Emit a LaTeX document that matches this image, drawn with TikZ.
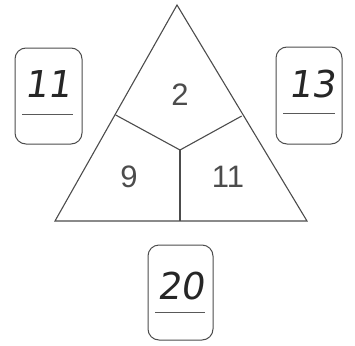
\documentclass[tikz,border=0pt]{standalone}
\usepackage{fontspec}
\setmainfont{Liberation Sans}
\newfontfamily\handfont{DejaVu Sans}[FakeSlant=0.15]
\begin{document}
\begin{tikzpicture}[x=1pt,y=-1pt,
  line/.style={draw=black!70,line width=1.1pt},
  numtext/.style={font=\fontsize{31}{34}\selectfont,text=black!70,inner sep=0pt},
  handtext/.style={font=\handfont\fontsize{37}{40}\selectfont,text=black!85,inner sep=0pt},
  answerbox/.style={draw=black!70,line width=1pt,rounded corners=11pt},
  underl/.style={draw=black!65,line width=1pt}]
\useasboundingbox (0,0) rectangle (355,345);
% triangle corners
\coordinate (apex) at (177,5);
\coordinate (bl) at (55,221);
\coordinate (br) at (307,221);
\coordinate (lm) at (115.7,115);
\coordinate (rm) at (241.7,116);
\coordinate (c) at (180,150);
\coordinate (bm) at (180,221);
\draw[line] (apex) -- (bl) -- (br) -- cycle;
\draw[line] (lm) -- (c) -- (rm);
\draw[line] (c) -- (bm);
% numbers
\node[numtext] (n2) at (180,95) {2};
\node[numtext] (n9) at (129,177) {9};
\node[numtext] (n11) at (228,177) {11};
% boxes
\draw[answerbox] (15,48) rectangle (82,144);
\node[handtext] (h11) at (48,84) {11};
\coordinate (u1a) at (22,114);
\coordinate (u1b) at (73,114);
\draw[underl] (u1a) -- (u1b);
\draw[answerbox] (276,47) rectangle (342,144);
\node[handtext] (h13) at (312,84) {13};
\coordinate (u2a) at (283,113);
\coordinate (u2b) at (335,113);
\draw[underl] (u2a) -- (u2b);
\draw[answerbox] (148,245) rectangle (213,340);
\node[handtext] (h20) at (181,286) {20};
\coordinate (u3a) at (155,312);
\coordinate (u3b) at (205,312);
\draw[underl] (u3a) -- (u3b);
\end{tikzpicture}
\end{document}
